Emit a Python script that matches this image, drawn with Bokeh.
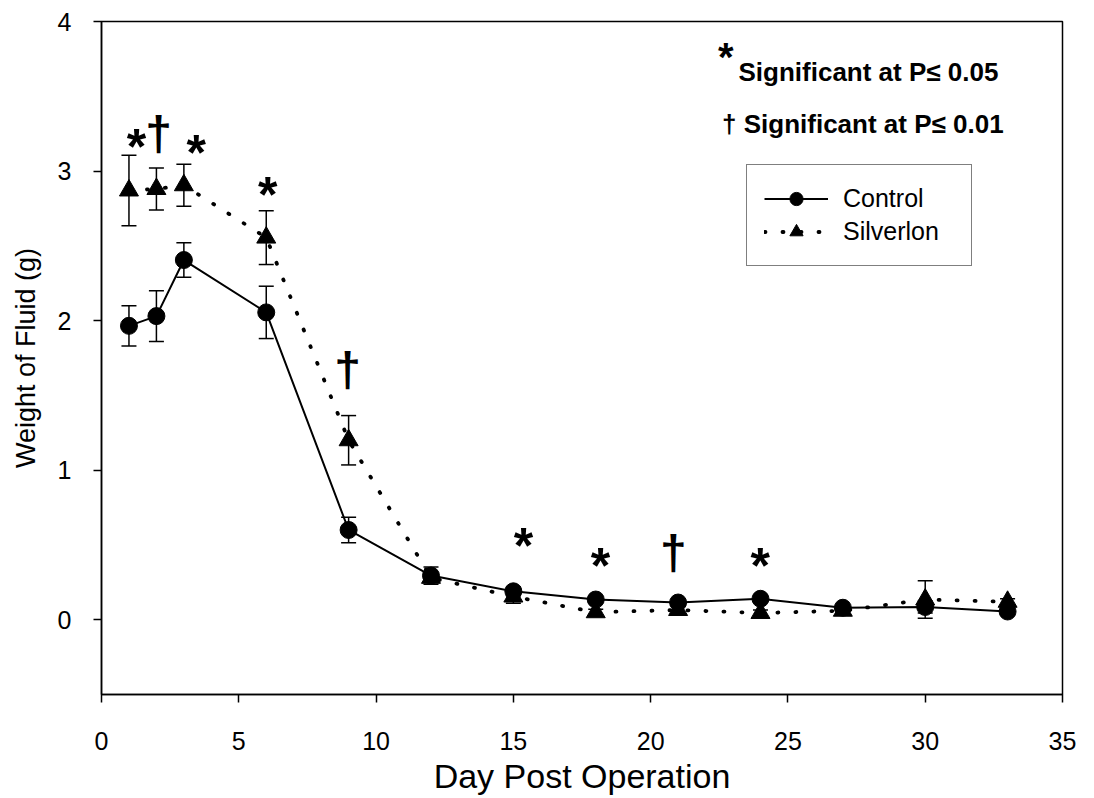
from bokeh.plotting import figure
from bokeh.models import (Range1d, ColumnDataSource, Whisker, TeeHead, Legend,
                          LegendItem, Label, FixedTicker)
from bokeh.core.properties import value
from bokeh.embed import file_html
from bokeh.resources import INLINE

# Days after the operation on which fluid was weighed
days = [1, 2, 3, 6, 9, 12, 15, 18, 21, 24, 27, 30, 33]

# Control group: mean weight of fluid (g) and standard error
control_mean = [1.965, 2.03, 2.405, 2.055, 0.60, 0.295, 0.19, 0.135, 0.115, 0.14, 0.08, 0.085, 0.055]
control_sem = [0.135, 0.17, 0.115, 0.175, 0.085, 0.058, 0.03, 0.02, 0.02, 0.02, 0.02, 0.04, 0.02]

# Silverlon group: mean weight of fluid (g) and standard error
silverlon_mean = [2.87, 2.88, 2.905, 2.555, 1.20, 0.28, 0.155, 0.05, 0.065, 0.045, 0.06, 0.135, 0.12]
silverlon_sem = [0.235, 0.14, 0.14, 0.18, 0.165, 0.03, 0.045, 0.02, 0.03, 0.02, 0.02, 0.125, 0.02]

# Significance markers (* P<=0.05, dagger P<=0.01), centred at these positions
star_day = [1.27, 3.45, 6.05, 15.37, 18.17, 23.99]
star_height = [3.20, 3.16, 2.88, 0.53, 0.40, 0.40]
dagger_day = [2.08, 8.96, 20.83]
dagger_height = [3.25, 1.67, 0.45]

x_ticks = [0, 5, 10, 15, 20, 25, 30, 35]
y_ticks = [0, 1, 2, 3, 4]

FONT = "Liberation Sans"

p = figure(width=1094, height=798, output_backend="svg", toolbar_location=None,
           x_range=Range1d(0, 35), y_range=Range1d(-0.5, 4),
           min_border_left=101, min_border_right=32, min_border_top=21,
           min_border_bottom=104)
p.background_fill_color = "white"
p.border_fill_color = "white"
p.grid.visible = False
p.outline_line_color = "black"
p.outline_line_width = 1.5

for ax in (p.xaxis[0], p.yaxis[0]):
    ax.axis_line_color = "black"
    ax.axis_line_width = 1.5
    ax.major_tick_line_color = "black"
    ax.major_tick_line_width = 1.5
    ax.major_tick_out = 8
    ax.major_tick_in = 0
    ax.minor_tick_line_color = None
    ax.major_label_text_font = FONT
    ax.major_label_text_font_size = "25px"
    ax.major_label_text_color = "black"
    ax.axis_label_text_font = FONT
    ax.axis_label_text_font_style = "normal"
    ax.axis_label_text_color = "black"

p.xaxis.ticker = FixedTicker(ticks=x_ticks)
p.yaxis.ticker = FixedTicker(ticks=y_ticks)
p.xaxis.axis_label = "Day Post Operation"
p.yaxis.axis_label = "Weight of Fluid (g)"
p.xaxis.axis_label_text_font_size = "34px"
p.yaxis.axis_label_text_font_size = "27px"
p.xaxis.major_label_standoff = 29
p.xaxis.axis_label_standoff = 4
p.yaxis.major_label_standoff = 22
p.yaxis.axis_label_standoff = 14

src_c = ColumnDataSource(dict(
    day=days, mean=control_mean,
    lo=[m - s for m, s in zip(control_mean, control_sem)],
    hi=[m + s for m, s in zip(control_mean, control_sem)]))
src_s = ColumnDataSource(dict(
    day=days, mean=silverlon_mean,
    lo=[m - s for m, s in zip(silverlon_mean, silverlon_sem)],
    hi=[m + s for m, s in zip(silverlon_mean, silverlon_sem)]))

# Error bars
for src in (src_s, src_c):
    w = Whisker(source=src, base="day", lower="lo", upper="hi", dimension="height",
                line_color="black", line_width=1.5,
                lower_head=TeeHead(size=15, line_color="black", line_width=1.5),
                upper_head=TeeHead(size=15, line_color="black", line_width=1.5))
    w.level = "glyph"
    p.add_layout(w)

# Silverlon: dotted line with triangles
s_line = p.line("day", "mean", source=src_s, line_color="black", line_width=3.8,
                line_dash="1 17", line_cap="round")
s_mark = p.scatter("day", "mean", source=src_s, marker="triangle", size=19,
                   fill_color="black", line_color="black")

# Control: solid line with circles
c_line = p.line("day", "mean", source=src_c, line_color="black", line_width=2)
c_mark = p.scatter("day", "mean", source=src_c, marker="circle", size=17,
                   fill_color="black", line_color="black")

# Significance symbols above the points
star_src = ColumnDataSource(dict(x=star_day, y=star_height, t=["*"] * len(star_day)))
p.text("x", "y", text="t", source=star_src, text_font=value(FONT),
       text_font_style="bold", text_font_size=value("50px"), text_color="black",
       text_align="center", text_baseline="alphabetic", y_offset=6)
dagger_src = ColumnDataSource(dict(x=dagger_day, y=dagger_height, t=["\u2020"] * len(dagger_day)))
p.text("x", "y", text="t", source=dagger_src, text_font=value(FONT),
       text_font_style="bold", text_font_size=value("48px"), text_color="black",
       text_align="center", text_baseline="alphabetic", y_offset=0)

# Key to the significance symbols
p.add_layout(Label(x=22.45, y=3.76, text="*", text_font=FONT, text_font_style="bold",
                   text_font_size="40px", text_color="black", text_baseline="alphabetic"))
p.add_layout(Label(x=23.2, y=3.66, text="Significant at P\u2264 0.05", text_font=FONT,
                   text_font_style="bold", text_font_size="26px", text_color="black",
                   text_baseline="alphabetic"))
p.add_layout(Label(x=22.6, y=3.312, text="\u2020 Significant at P\u2264 0.01", text_font=FONT,
                   text_font_style="bold", text_font_size="26px", text_color="black",
                   text_baseline="alphabetic"))

legend = Legend(items=[LegendItem(label="Control", renderers=[c_line, c_mark]),
                       LegendItem(label="Silverlon", renderers=[s_line, s_mark])],
                location=(645, 428), orientation="vertical",
                border_line_color="black", border_line_width=1.5,
                background_fill_color="white", background_fill_alpha=1.0,
                padding=17, spacing=0, margin=0,
                glyph_width=64, glyph_height=33, label_standoff=15, label_width=111,
                label_text_font=FONT, label_text_font_size="25px",
                label_text_color="black", label_height=31)
p.add_layout(legend)

open("out.html", "w").write(file_html(p, INLINE))
